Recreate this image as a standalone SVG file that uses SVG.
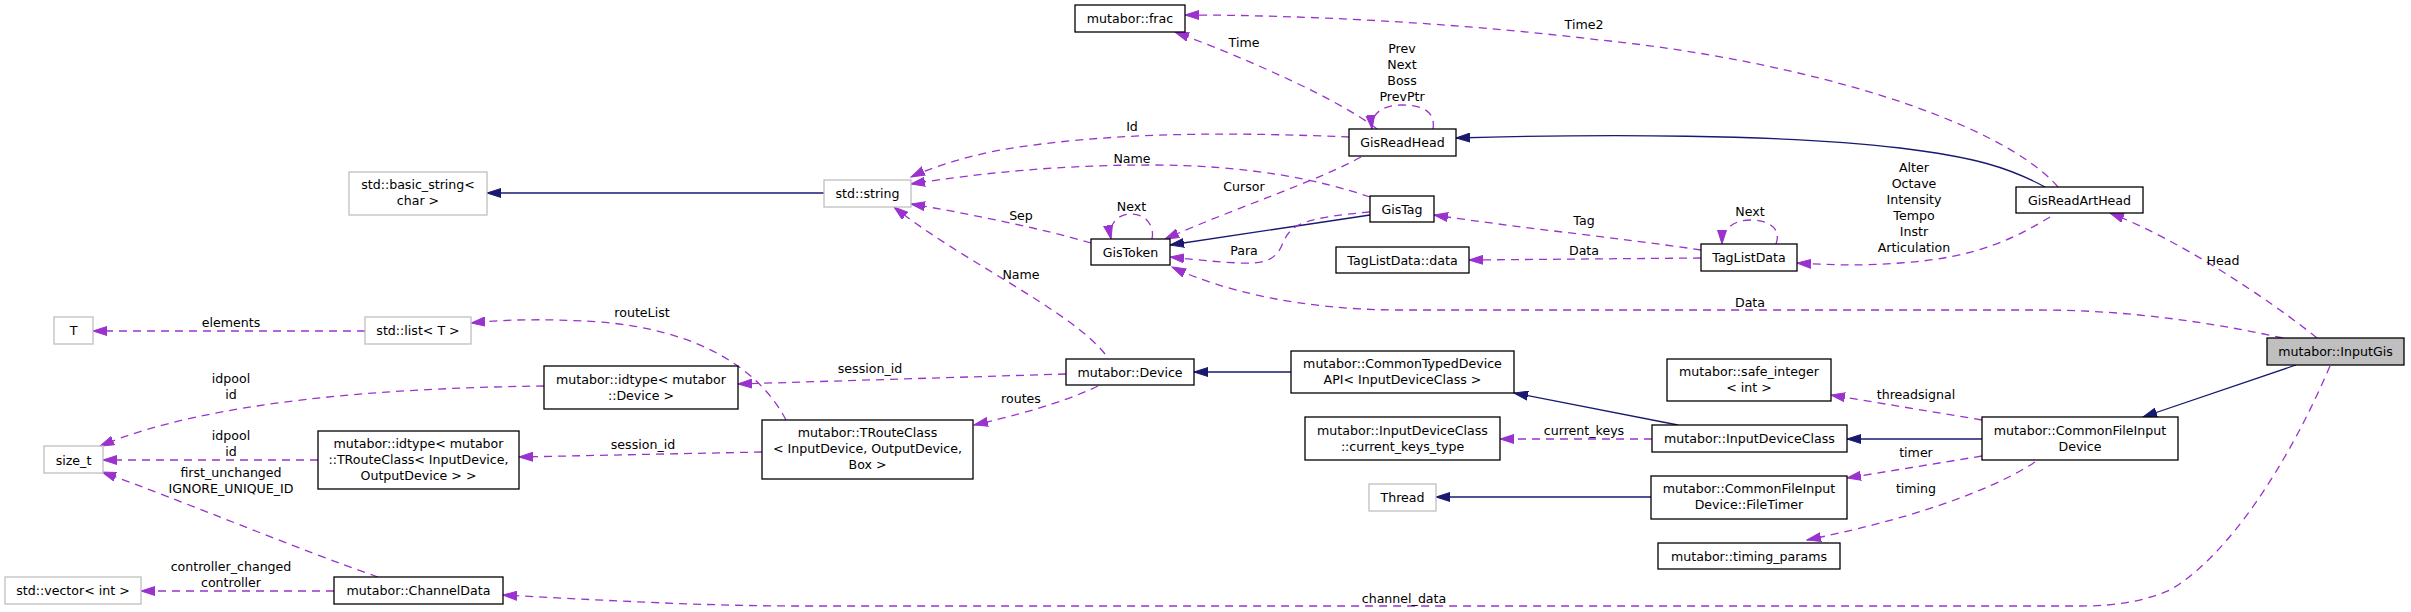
<svg xmlns="http://www.w3.org/2000/svg" width="2411" height="612" viewBox="0 0 2411 612">
<style>
text{font-family:"DejaVu Sans","Liberation Sans",sans-serif;font-size:12.6px;fill:#000;text-anchor:middle}
.n rect{fill:#fff;stroke:#000;stroke-width:1.3}
.g rect{fill:#fff;stroke:#bfbfbf;stroke-width:1.3}
.sel rect{fill:#bfbfbf;stroke:#000;stroke-width:1.3}
.inh{fill:none;stroke:#191970;stroke-width:1.3;marker-end:url(#ab)}
.use{fill:none;stroke:#9a32cd;stroke-width:1.3;stroke-dasharray:8,6;marker-end:url(#ap)}
</style>
<defs>
<marker id="ab" markerUnits="userSpaceOnUse" markerWidth="15" markerHeight="10" refX="14" refY="5" orient="auto"><path d="M0,0.5 L14,5 L0,9.5 z" fill="#191970" stroke="#191970" stroke-width="1"/></marker>
<marker id="ap" markerUnits="userSpaceOnUse" markerWidth="15" markerHeight="10" refX="14" refY="5" orient="auto"><path d="M0,0.5 L14,5 L0,9.5 z" fill="#9a32cd" stroke="#9a32cd" stroke-width="1"/></marker>
</defs>
<rect width="2411" height="612" fill="#fff"/>
<g id="edges">
<path class="inh" d="M824,193 L487,193"/>
<path class="inh" d="M1370,215 L1170,245"/>
<path class="inh" d="M2045,187 C2010,168 1975,157 1900,148 C1780,134 1600,134 1456,138"/>
<path class="inh" d="M1291,372 L1194,372"/>
<path class="inh" d="M1678,425 L1514,393"/>
<path class="inh" d="M1982,439 L1847,439"/>
<path class="inh" d="M1651,497 L1436,497"/>
<path class="inh" d="M2296,365 L2143,417"/>

<path class="use" d="M365,331 L93,331"/>
<text x="231" y="327">elements</text>
<path class="use" d="M544,386 C390,388 210,400 100,446"/>
<text x="231" y="383">idpool</text><text x="231" y="399">id</text>
<path class="use" d="M318,460 L103,460"/>
<text x="231" y="440">idpool</text><text x="231" y="456">id</text>
<path class="use" d="M378,577 C300,550 180,500 102,472"/>
<text x="231" y="477">first_unchanged</text><text x="231" y="493">IGNORE_UNIQUE_ID</text>
<path class="use" d="M334,591 L141,591"/>
<text x="231" y="571">controller_changed</text><text x="231" y="587">controller</text>
<path class="use" d="M786,420 C760,370 700,330 600,322 C540,318 500,320 471,323"/>
<text x="642" y="317">routeList</text>
<path class="use" d="M762,452 L519,457"/>
<text x="643" y="449">session_id</text>
<path class="use" d="M1066,374 L738,384"/>
<text x="870" y="373">session_id</text>
<path class="use" d="M1098,386 C1075,397 1040,410 974,425"/>
<text x="1021" y="403">routes</text>
<path class="use" d="M1105,354 C1070,310 960,260 894,207"/>
<text x="1021" y="279">Name</text>
<path class="use" d="M1091,243 C1040,228 960,212 911,204"/>
<text x="1021" y="219.5">Sep</text>
<path class="use" d="M1152,239 C1155,225 1145,214 1131,214 C1117,214 1108,225 1111,239"/>
<text x="1131.5" y="211">Next</text>
<path class="use" d="M1349,137 C1250,133 1120,130 1000,150 C960,158 930,168 911,177"/>
<text x="1132" y="131">Id</text>
<path class="use" d="M1370,197 C1320,180 1250,165 1150,165 C1060,165 980,173 911,184"/>
<text x="1132" y="163">Name</text>
<path class="use" d="M1377,129 C1340,100 1250,60 1175,32"/>
<text x="1244" y="47">Time</text>
<path class="use" d="M1433,129 C1436,110 1420,105 1402,105 C1385,105 1370,112 1372,129"/>
<text x="1402" y="53">Prev</text><text x="1402" y="69">Next</text><text x="1402" y="85">Boss</text><text x="1402" y="101">PrevPtr</text>
<path class="use" d="M1361,157 C1320,180 1230,210 1165,239"/>
<text x="1244" y="191">Cursor</text>
<path class="use" d="M1370,212 C1300,218 1290,225 1282,245 C1275,262 1260,264 1240,263 C1215,262 1190,259 1170,257"/>
<text x="1244" y="255">Para</text>
<path class="use" d="M1701,250 C1620,238 1520,228 1434,215"/>
<text x="1584" y="225">Tag</text>
<path class="use" d="M1701,258 L1469,260"/>
<text x="1584" y="255">Data</text>
<path class="use" d="M1776,244 C1782,228 1768,220 1750,220 C1735,220 1722,228 1722,244"/>
<text x="1750" y="216">Next</text>
<path class="use" d="M2050,217 C2020,235 1980,258 1900,263 C1860,266 1830,265 1797,263"/>
<text x="1914" y="172">Alter</text><text x="1914" y="188">Octave</text><text x="1914" y="204">Intensity</text><text x="1914" y="220">Tempo</text><text x="1914" y="236">Instr</text><text x="1914" y="252">Articulation</text>
<path class="use" d="M2058,187 C2000,120 1800,60 1600,40 C1450,22 1300,15 1185,15"/>
<text x="1584" y="28.5">Time2</text>
<path class="use" d="M2317,338 C2270,300 2180,240 2110,213"/>
<text x="2223" y="265">Head</text>
<path class="use" d="M2283,338 C2200,320 2120,310 2040,310 L1400,310 C1300,310 1220,290 1172,267"/>
<text x="1750" y="307">Data</text>
<path class="use" d="M1982,420 L1831,395"/>
<text x="1916" y="399">threadsignal</text>
<path class="use" d="M1652,439 L1500,439"/>
<text x="1584" y="435">current_keys</text>
<path class="use" d="M1982,456 L1847,478"/>
<text x="1916" y="457">timer</text>
<path class="use" d="M2035,462 C2000,485 1930,515 1807,540"/>
<text x="1916" y="493">timing</text>
<path class="use" d="M2330,366 C2290,460 2230,555 2170,590 C2140,603 2110,606 2080,606 L800,606 C700,606 600,600 503,595"/>
<text x="1404" y="603">channel_data</text>
</g>

<g id="InputGis" class="sel"><rect x="2267" y="338" width="137" height="27"/><text x="2335.5" y="356">mutabor::InputGis</text></g>
<g id="CommonFileInputDevice" class="n"><rect x="1982" y="417" width="196" height="43"/><text x="2080" y="435">mutabor::CommonFileInput</text><text x="2080" y="451">Device</text></g>
<g id="GisReadArtHead" class="n"><rect x="2016" y="187" width="127" height="26"/><text x="2079.5" y="204.5">GisReadArtHead</text></g>
<g id="GisReadHead" class="n"><rect x="1349" y="129" width="107" height="27"/><text x="1402.5" y="147">GisReadHead</text></g>
<g id="frac" class="n"><rect x="1075" y="5" width="110" height="27"/><text x="1130" y="23">mutabor::frac</text></g>
<g id="string" class="g"><rect x="824" y="180" width="87" height="27"/><text x="867.5" y="198">std::string</text></g>
<g id="basic_string" class="g"><rect x="349" y="172" width="138" height="43"/><text x="418" y="188.5">std::basic_string&lt;</text><text x="418" y="204.5">char &gt;</text></g>
<g id="GisToken" class="n"><rect x="1091" y="239" width="79" height="26"/><text x="1130.5" y="256.5">GisToken</text></g>
<g id="GisTag" class="n"><rect x="1370" y="196" width="64" height="26"/><text x="1402" y="213.5">GisTag</text></g>
<g id="TagListData_data" class="n"><rect x="1336" y="247" width="133" height="26"/><text x="1402.5" y="264.5">TagListData::data</text></g>
<g id="TagListData" class="n"><rect x="1701" y="244" width="96" height="27"/><text x="1749" y="261.5">TagListData</text></g>
<g id="Device" class="n"><rect x="1066" y="359" width="128" height="26"/><text x="1130" y="376.5">mutabor::Device</text></g>
<g id="CommonTypedDeviceAPI" class="n"><rect x="1291" y="351" width="223" height="42"/><text x="1402.5" y="368">mutabor::CommonTypedDevice</text><text x="1402.5" y="384">API&lt; InputDeviceClass &gt;</text></g>
<g id="current_keys_type" class="n"><rect x="1305" y="417" width="195" height="43"/><text x="1402.5" y="435">mutabor::InputDeviceClass</text><text x="1402.5" y="451">::current_keys_type</text></g>
<g id="Thread" class="g"><rect x="1369" y="484" width="67" height="27"/><text x="1402.5" y="501.5">Thread</text></g>
<g id="InputDeviceClass" class="n"><rect x="1652" y="425" width="195" height="27"/><text x="1749.5" y="443">mutabor::InputDeviceClass</text></g>
<g id="safe_integer" class="n"><rect x="1667" y="359" width="164" height="42"/><text x="1749" y="376">mutabor::safe_integer</text><text x="1749" y="392">&lt; int &gt;</text></g>
<g id="FileTimer" class="n"><rect x="1651" y="476" width="196" height="43"/><text x="1749" y="493">mutabor::CommonFileInput</text><text x="1749" y="509">Device::FileTimer</text></g>
<g id="timing_params" class="n"><rect x="1658" y="543" width="182" height="26"/><text x="1749" y="560.5">mutabor::timing_params</text></g>
<g id="TRouteClass" class="n"><rect x="762" y="420" width="211" height="59"/><text x="867.5" y="437">mutabor::TRouteClass</text><text x="867.5" y="453">&lt; InputDevice, OutputDevice,</text><text x="867.5" y="469">Box &gt;</text></g>
<g id="idtype_Device" class="n"><rect x="544" y="366" width="194" height="43"/><text x="641" y="383.5">mutabor::idtype&lt; mutabor</text><text x="641" y="399.5">::Device &gt;</text></g>
<g id="idtype_TRouteClass" class="n"><rect x="318" y="431" width="201" height="58"/><text x="418.5" y="447.5">mutabor::idtype&lt; mutabor</text><text x="418.5" y="463.5">::TRouteClass&lt; InputDevice,</text><text x="418.5" y="479.5">OutputDevice &gt; &gt;</text></g>
<g id="list_T" class="g"><rect x="365" y="317" width="106" height="27"/><text x="418" y="335">std::list&lt; T &gt;</text></g>
<g id="T" class="g"><rect x="54" y="317" width="39" height="27"/><text x="73.5" y="335">T</text></g>
<g id="size_t" class="g"><rect x="44" y="446" width="59" height="27"/><text x="73.5" y="464.5">size_t</text></g>
<g id="ChannelData" class="n"><rect x="334" y="577" width="169" height="27"/><text x="418.5" y="595">mutabor::ChannelData</text></g>
<g id="vector_int" class="g"><rect x="5" y="577" width="136" height="27"/><text x="73" y="595">std::vector&lt; int &gt;</text></g>
</svg>
